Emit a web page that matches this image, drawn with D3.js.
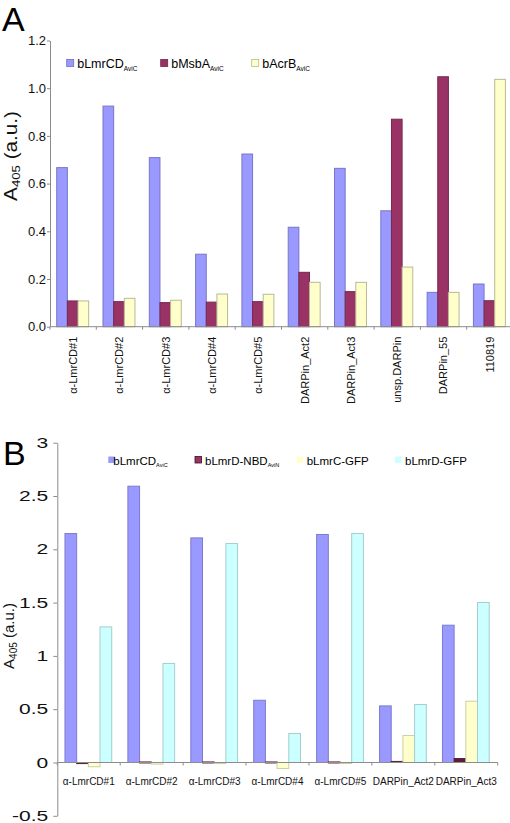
<!DOCTYPE html>
<html><head><meta charset="utf-8">
<script src="https://cdn.jsdelivr.net/npm/d3@7"></script>
<style>body{margin:0;background:#fff}svg{display:block;font-family:"Liberation Sans",Arial,sans-serif}svg text{font-family:"Liberation Sans",Arial,sans-serif}</style>
</head><body>
<script>
// ---- Panel A data ----
const catsA = ["α-LmrCD#1","α-LmrCD#2","α-LmrCD#3","α-LmrCD#4","α-LmrCD#5","DARPin_Act2","DARPin_Act3","unsp.DARPin","DARPin_55","110819"];
const seriesA = ["bLmrCD","bMsbA","bAcrB"];
const subsA = ["AviC","AviC","AviC"];
const valsA_LmrCD = [0.667,0.925,0.709,0.304,0.724,0.417,0.664,0.486,0.144,0.179];
const valsA_MsbA  = [0.108,0.105,0.101,0.103,0.105,0.228,0.147,0.870,1.048,0.109];
const valsA_AcrB  = [0.108,0.119,0.111,0.137,0.136,0.186,0.186,0.250,0.144,1.037];
const ticksA = [0,0.2,0.4,0.6,0.8,1.0,1.2];

// ---- Panel B data ----
const catsB = ["α-LmrCD#1","α-LmrCD#2","α-LmrCD#3","α-LmrCD#4","α-LmrCD#5","DARPin_Act2","DARPin_Act3"];
const seriesB = ["bLmrCD","bLmrD-NBD","bLmrC-GFP","bLmrD-GFP"];
const subsB = ["AviC","AviN","",""];
const valsB_LmrCD = [2.148,2.592,2.107,0.584,2.139,0.531,1.288];
const valsB_NBD   = [-0.010,0.005,0.005,0.005,0.005,0.010,0.037];
const valsB_LmrC  = [-0.040,-0.015,-0.010,-0.056,-0.005,0.253,0.575];
const valsB_LmrD  = [1.272,0.929,2.054,0.272,2.148,0.544,1.501];
const ticksB = [-0.5,0,0.5,1,1.5,2,2.5,3];

const colorsA = ["#9999ff","#993366","#ffffcc"];
const colorsB = ["#9999ff","#993366","#ffffcc","#ccffff"];
const axisCol = "#8c8c8c";
const FONT = "'Liberation Sans',Arial,sans-serif";

const svg = d3.select("body").append("svg").attr("width",510).attr("height",823);

function subText(g, x, y, main, sub, size, subSize){
  const t = g.append("text").attr("x",x).attr("y",y).attr("font-size",size).attr("fill","#000");
  t.append("tspan").text(main);
  if(sub) t.append("tspan").attr("font-size",subSize).attr("dy",size*0.25).text(sub);
  return t;
}

// ================= Panel A =================
(function(){
  const g = svg.append("g");
  g.append("text").attr("x",2).attr("y",31).attr("font-size",34).text("A");
  const x0 = d3.scaleBand().domain(catsA).range([50,513]);
  const x1 = d3.scaleBand().domain(seriesA).range([x0.bandwidth()*0.145, x0.bandwidth()*0.835]);
  const y = d3.scaleLinear().domain([0,1.2]).range([326.7,40.5]);
  const data = [valsA_LmrCD, valsA_MsbA, valsA_AcrB];

  seriesA.forEach((s,si)=>{
    g.append("g").selectAll("rect").data(catsA.map((c,i)=>({c,v:data[si][i]}))).join("rect")
      .attr("x",d=>x0(d.c)+x1(s)).attr("width",x1.bandwidth())
      .attr("y",d=>y(Math.max(0,d.v))).attr("height",d=>Math.abs(y(d.v)-y(0)))
      .attr("fill",colorsA[si]).attr("stroke",d3.color(colorsA[si]).darker(si===2?0.9:0.7)).attr("stroke-width",1);
  });

  const ya = g.append("g").attr("transform","translate(50,0)")
    .call(d3.axisLeft(y).tickValues(ticksA).tickFormat(d3.format(".1f")).tickSize(3).tickSizeOuter(0));
  ya.attr("font-family",FONT);
  ya.select(".domain").attr("stroke",axisCol);
  ya.selectAll(".tick line").attr("stroke",axisCol);
  ya.selectAll(".tick text").attr("font-size",13).attr("font-family",FONT).attr("fill","#111").attr("x",-4);

  const bounds = catsA.map(c=>x0(c)).concat([x0.range()[1]]);
  g.append("line").attr("x1",x0.range()[0]).attr("x2",x0.range()[1]).attr("y1",y(0)).attr("y2",y(0)).attr("stroke",axisCol);
  g.append("g").selectAll("line").data(bounds).join("line")
    .attr("x1",d=>d).attr("x2",d=>d).attr("y1",y(0)).attr("y2",y(0)+3).attr("stroke",axisCol);
  g.append("g").selectAll("text").data(catsA).join("text")
    .attr("transform",d=>`translate(${x0(d)+x0.bandwidth()/2},${y(0)+10}) rotate(-90)`)
    .attr("text-anchor","end").attr("dy","0.35em").attr("font-size",11).attr("fill","#111").text(d=>d);

  const yl = g.append("text").attr("transform","translate(17,156) rotate(-90) scale(1.15,1)")
    .attr("text-anchor","middle").attr("font-size",18).attr("fill","#111");
  yl.append("tspan").text("A");
  yl.append("tspan").attr("font-size",11.5).attr("dy",3).text("405");
  yl.append("tspan").attr("dy",-3).text(" (a.u.)");

  const lx = [66.7,160.7,251.7];
  seriesA.forEach((s,si)=>{
    g.append("rect").attr("x",lx[si]).attr("y",59.5).attr("width",7).attr("height",7)
      .attr("fill",colorsA[si]).attr("stroke",d3.color(colorsA[si]).darker(0.9)).attr("stroke-width",0.8);
    subText(g, lx[si]+10.5, 67.5, s, subsA[si], 12.5, 6.5);
  });
})();

// ================= Panel B =================
(function(){
  const g = svg.append("g");
  g.append("text").attr("x",3).attr("y",465).attr("font-size",34).text("B");
  const x0 = d3.scaleBand().domain(catsB).range([57.3,497.7]);
  const x1 = d3.scaleBand().domain(seriesB).range([x0.bandwidth()*0.122, x0.bandwidth()*0.865]);
  const y = d3.scaleLinear().domain([-0.5,3]).range([815.8,442.7]);
  const data = [valsB_LmrCD, valsB_NBD, valsB_LmrC, valsB_LmrD];

  seriesB.forEach((s,si)=>{
    g.append("g").selectAll("rect").data(catsB.map((c,i)=>({c,v:data[si][i]}))).join("rect")
      .attr("x",d=>x0(d.c)+x1(s)).attr("width",x1.bandwidth())
      .attr("y",d=>y(Math.max(0,d.v))).attr("height",d=>Math.max(1,Math.abs(y(d.v)-y(0))))
      .attr("fill",si===1?"#5a1c3a":colorsB[si]).attr("stroke",d3.color(colorsB[si]).darker(si===1?1.6:0.6)).attr("stroke-width",1);
  });

  const ya = g.append("g").attr("transform",`translate(${x0.range()[0]},0)`)
    .call(d3.axisLeft(y).tickValues(ticksB).tickFormat(d=>String(d)).tickSize(4).tickSizeOuter(0));
  ya.attr("font-family",FONT);
  ya.select(".domain").attr("stroke",axisCol);
  ya.selectAll(".tick line").attr("stroke",axisCol);
  ya.selectAll(".tick text").attr("x",null).attr("dy",null)
    .attr("transform","translate(-9,4.5) scale(1.45,1)")
    .attr("font-size",14.5).attr("font-family",FONT).attr("fill","#111");

  const bounds = catsB.map(c=>x0(c)).concat([x0.range()[1]]);
  g.append("line").attr("x1",x0.range()[0]).attr("x2",x0.range()[1]).attr("y1",y(0)).attr("y2",y(0)).attr("stroke",axisCol);
  g.append("g").selectAll("line").data(bounds).join("line")
    .attr("x1",d=>d).attr("x2",d=>d).attr("y1",y(0)).attr("y2",y(0)+3).attr("stroke",axisCol);
  g.append("g").selectAll("text").data(catsB).join("text")
    .attr("x",d=>x0(d)+x0.bandwidth()/2).attr("y",785)
    .attr("text-anchor","middle").attr("font-size",10).attr("fill","#111").text(d=>d);

  const yl = g.append("text").attr("transform","translate(14,636) rotate(-90)")
    .attr("text-anchor","middle").attr("font-size",15).attr("fill","#111");
  yl.append("tspan").text("A");
  yl.append("tspan").attr("font-size",10).attr("dy",3).text("405");
  yl.append("tspan").attr("dy",-3).text(" (a.u.)");

  const lx = [108.3,195,296.7,395];
  seriesB.forEach((s,si)=>{
    g.append("rect").attr("x",lx[si]).attr("y",456.5).attr("width",6.5).attr("height",6.5)
      .attr("fill",colorsB[si]).attr("stroke",si===1?"#3a1020":"none").attr("stroke-width",0.8);
    subText(g, lx[si]+(si===0?5:10), 464.5, s, subsB[si], 11.5, 5.5);
  });
})();
</script>
</body></html>
